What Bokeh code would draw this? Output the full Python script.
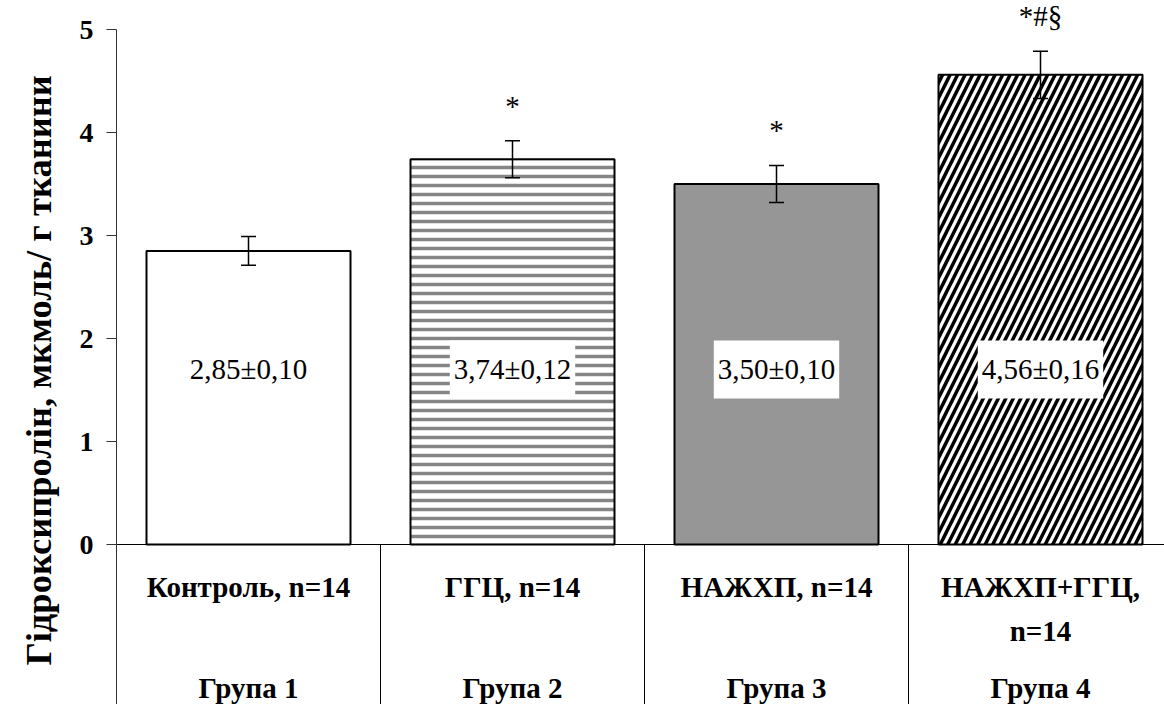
from bokeh.plotting import figure
from bokeh.models import ColumnDataSource, Range1d, FixedTicker, Whisker, TeeHead, Title
from bokeh.core.properties import value
from bokeh.embed import file_html
from bokeh.resources import INLINE

# Hydroxyproline content by group
groups = ["Група 1", "Група 2", "Група 3", "Група 4"]
subgroups = ["Контроль, n=14", "ГГЦ, n=14", "НАЖХП, n=14", "НАЖХП+ГГЦ,\nn=14"]
means = [2.85, 3.74, 3.50, 4.56]
sem = [0.10, 0.12, 0.10, 0.16]
err = [0.14, 0.18, 0.18, 0.23]
marks = ["", "*", "*", "*#§"]
y_ticks = [0, 1, 2, 3, 4, 5]
y_title = "Гідроксипролін, мкмоль/ г тканини"

# bar styling
fills = ["white", "white", "#969696", "white"]
hatches = [" ", "horizontal_line", " ", "right_diagonal_line"]
hatch_colors = ["black", "#858585", "black", "black"]
hatch_weights = [1, 3.5, 1, 3.5]
hatch_scales = [10, 9, 10, 15]

SERIF = "Liberation Serif"


def fmt(v):
    return f"{v:.2f}".replace(".", ",")


n = len(means)
xs = [i + 0.5 for i in range(n)]
src = ColumnDataSource(dict(
    x=xs, top=means, lower=[m - e for m, e in zip(means, err)],
    upper=[m + e for m, e in zip(means, err)],
    label=[f"{fmt(m)}±{fmt(s)}" for m, s in zip(means, sem)],
    mark=marks, sub=subgroups, grp=groups,
    fill=fills, hatch=hatches, hcol=hatch_colors, hw=hatch_weights, hs=hatch_scales,
))

PX_PER_CAT = 264.0
PX_PER_UNIT = 103.0
W, H = 1164, 704
LEFT, TOP = 116, 29
Y_MAX = 5
Y_BOTTOM = Y_MAX - (H - TOP) / PX_PER_UNIT
X_MAX = (W - LEFT) / PX_PER_CAT

p = figure(width=W, height=H, output_backend="svg", toolbar_location=None,
           x_range=Range1d(0, X_MAX),
           y_range=Range1d(Y_BOTTOM, Y_MAX + TOP / PX_PER_UNIT),
           x_axis_location=None,
           min_border_left=LEFT, min_border_right=0,
           min_border_top=0, min_border_bottom=0)
p.outline_line_color = None
p.xgrid.visible = False
p.ygrid.visible = False
p.background_fill_color = "white"
p.border_fill_color = "white"

ax = p.yaxis[0]
ax.ticker = FixedTicker(ticks=y_ticks)
ax.bounds = (Y_BOTTOM, Y_MAX)
ax.minor_tick_line_color = None
ax.major_tick_in = 0
ax.major_tick_out = 10
ax.major_tick_line_color = "#333333"
ax.axis_line_color = "#333333"
ax.major_label_text_font = SERIF
ax.major_label_text_font_style = "bold"
ax.major_label_text_font_size = "28px"
ax.major_label_text_color = "black"
ax.major_label_standoff = 13

# vertical title, read bottom to top, pushed to the outer edge of its panel
p.add_layout(Title(text=y_title, align="left", offset=39, standoff=32,
                   vertical_align="top",
                   text_font=SERIF, text_font_style="bold",
                   text_font_size="36.5px", text_color="black"), "left")

# baseline and category separators
p.segment(x0=[0], y0=[0], x1=[X_MAX], y1=[0], line_color="black", line_width=1.2)
bounds = list(range(1, n + 1))
p.segment(x0=bounds, y0=[0] * n, x1=bounds, y1=[Y_BOTTOM] * n,
          line_color="black", line_width=1)

p.vbar(x="x", top="top", bottom=0, width=204 / PX_PER_CAT, source=src,
       fill_color="fill", line_color="black", line_width=2,
       hatch_pattern="hatch", hatch_color="hcol", hatch_weight="hw", hatch_scale="hs")

p.add_layout(Whisker(base="x", lower="lower", upper="upper", source=src,
                     dimension="height", line_color="black", line_width=1.5,
                     level="overlay",
                     upper_head=TeeHead(size=15, line_color="black", line_width=1.5),
                     lower_head=TeeHead(size=15, line_color="black", line_width=1.5)))

p.text(x="x", y=1.7, text="label", source=src, text_align="center",
       text_baseline="middle", text_font=value(SERIF), text_font_size="29px",
       text_color="black", background_fill_color="white",
       padding=dict(left=4, right=4, top=13, bottom=13))

p.text(x="x", y="upper", text="mark", source=src, text_align="center",
       text_baseline="middle", y_offset=-35, text_font=value(SERIF),
       text_font_size="29px", text_color="black")

p.text(x="x", y=-0.262, text="sub", source=src, text_align="center",
       text_baseline="top", text_font=value(SERIF), text_font_style="bold",
       text_font_size="29px", text_line_height=1.35, text_color="black")

p.text(x="x", y=-1.398, text="grp", source=src, text_align="center",
       text_baseline="middle", text_font=value(SERIF), text_font_style="bold",
       text_font_size="29px", text_color="black")

open("out.html", "w").write(file_html(p, INLINE))
